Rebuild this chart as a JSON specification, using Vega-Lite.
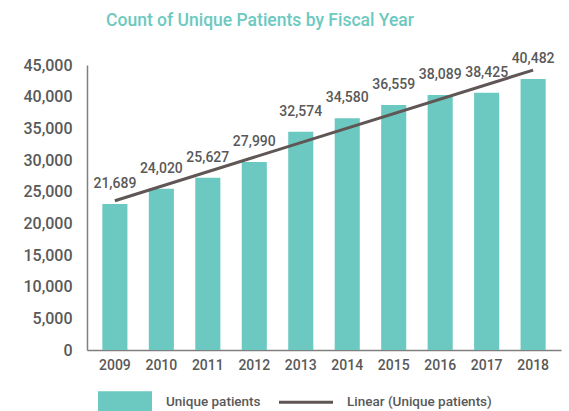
{
  "$schema": "https://vega.github.io/schema/vega-lite/v6.json",
  "width": 474,
  "height": 285,
  "autosize": "none",
  "padding": {"left": 87, "top": 65, "right": 8, "bottom": 61},
  "background": "white",
  "config": {
    "view": {"stroke": null},
    "font": "Roboto",
    "axis": {"labelFont": "Roboto", "labelFontWeight": 500, "labelColor": "#595959", "grid": false}
  },
  "title": {
    "text": "Count of Unique Patients by Fiscal Year",
    "color": "#6CC9C1",
    "fontSize": 17.5,
    "fontWeight": 500,
    "font": "Roboto",
    "anchor": "middle",
    "frame": "group",
    "dx": -64,
    "offset": 22
  },
  "data": {
    "values": [
      {"year": 2009, "bar": 23050, "label": "21,689"},
      {"year": 2010, "bar": 25470, "label": "24,020"},
      {"year": 2011, "bar": 27210, "label": "25,627"},
      {"year": 2012, "bar": 29680, "label": "27,990"},
      {"year": 2013, "bar": 34470, "label": "32,574"},
      {"year": 2014, "bar": 36580, "label": "34,580"},
      {"year": 2015, "bar": 38680, "label": "36,559"},
      {"year": 2016, "bar": 40260, "label": "38,089"},
      {"year": 2017, "bar": 40630, "label": "38,425"},
      {"year": 2018, "bar": 42790, "label": "40,482"}
    ]
  },
  "encoding": {
    "x": {
      "field": "year",
      "type": "ordinal",
      "title": null,
      "scale": {"paddingInner": 0.46, "paddingOuter": 0.33},
      "axis": {"labelAngle": 0, "labelFontSize": 14, "labelPadding": 8, "ticks": false, "domainColor": "#7F7F7F", "domainWidth": 1.5}
    },
    "y": {
      "field": "bar",
      "type": "quantitative",
      "title": null,
      "scale": {"domain": [0, 45000], "nice": false},
      "axis": {"values": [0, 5000, 10000, 15000, 20000, 25000, 30000, 35000, 40000, 45000], "format": ",d", "labelFontSize": 16, "labelPadding": 15, "labelOverlap": false, "labelBound": false, "ticks": false, "domainColor": "#7F7F7F", "domainWidth": 1.5}
    }
  },
  "layer": [
    {
      "mark": {"type": "bar"},
      "encoding": {
        "color": {
          "datum": "Unique patients",
          "type": "nominal",
          "scale": {"domain": ["Unique patients", "Linear (Unique patients)"], "range": ["#6CC9C1", "#5F5655"]},
          "legend": {
            "title": null,
            "orient": "none",
            "legendX": 11,
            "legendY": 310,
            "direction": "horizontal",
            "padding": 0,
            "labelFontSize": 13.5,
            "labelFont": "Roboto",
            "labelFontWeight": 500,
            "labelColor": "#595959",
            "labelOffset": 14,
            "columnPadding": 11,
            "symbolSize": 2601,
            "encode": {
              "symbols": {
                "update": {
                  "shape": [{"test": "datum.value === 'Unique patients'", "value": "M-1,-0.37H1V0.37H-1Z"}, {"value": "M-1.06,-0.37M-1.06,0H1.06M1.06,0.37"}],
                  "fill": [{"test": "datum.value === 'Unique patients'", "value": "#6CC9C1"}, {"value": "transparent"}],
                  "stroke": [{"test": "datum.value === 'Unique patients'", "value": "transparent"}, {"value": "#5F5655"}],
                  "strokeWidth": {"value": 3},
                  "opacity": {"value": 1}
                }
              }
            }
          }
        }
      }
    },
    {
      "mark": {"type": "text", "dy": -16, "baseline": "alphabetic", "fontSize": 14, "font": "Roboto", "fontWeight": 500, "color": "#595959"},
      "encoding": {
        "text": {"field": "label"}
      }
    },
    {
      "transform": [{"regression": "bar", "on": "year"}],
      "mark": {"type": "line", "strokeWidth": 3},
      "encoding": {
        "color": {"datum": "Linear (Unique patients)", "type": "nominal"}
      }
    }
  ]
}
